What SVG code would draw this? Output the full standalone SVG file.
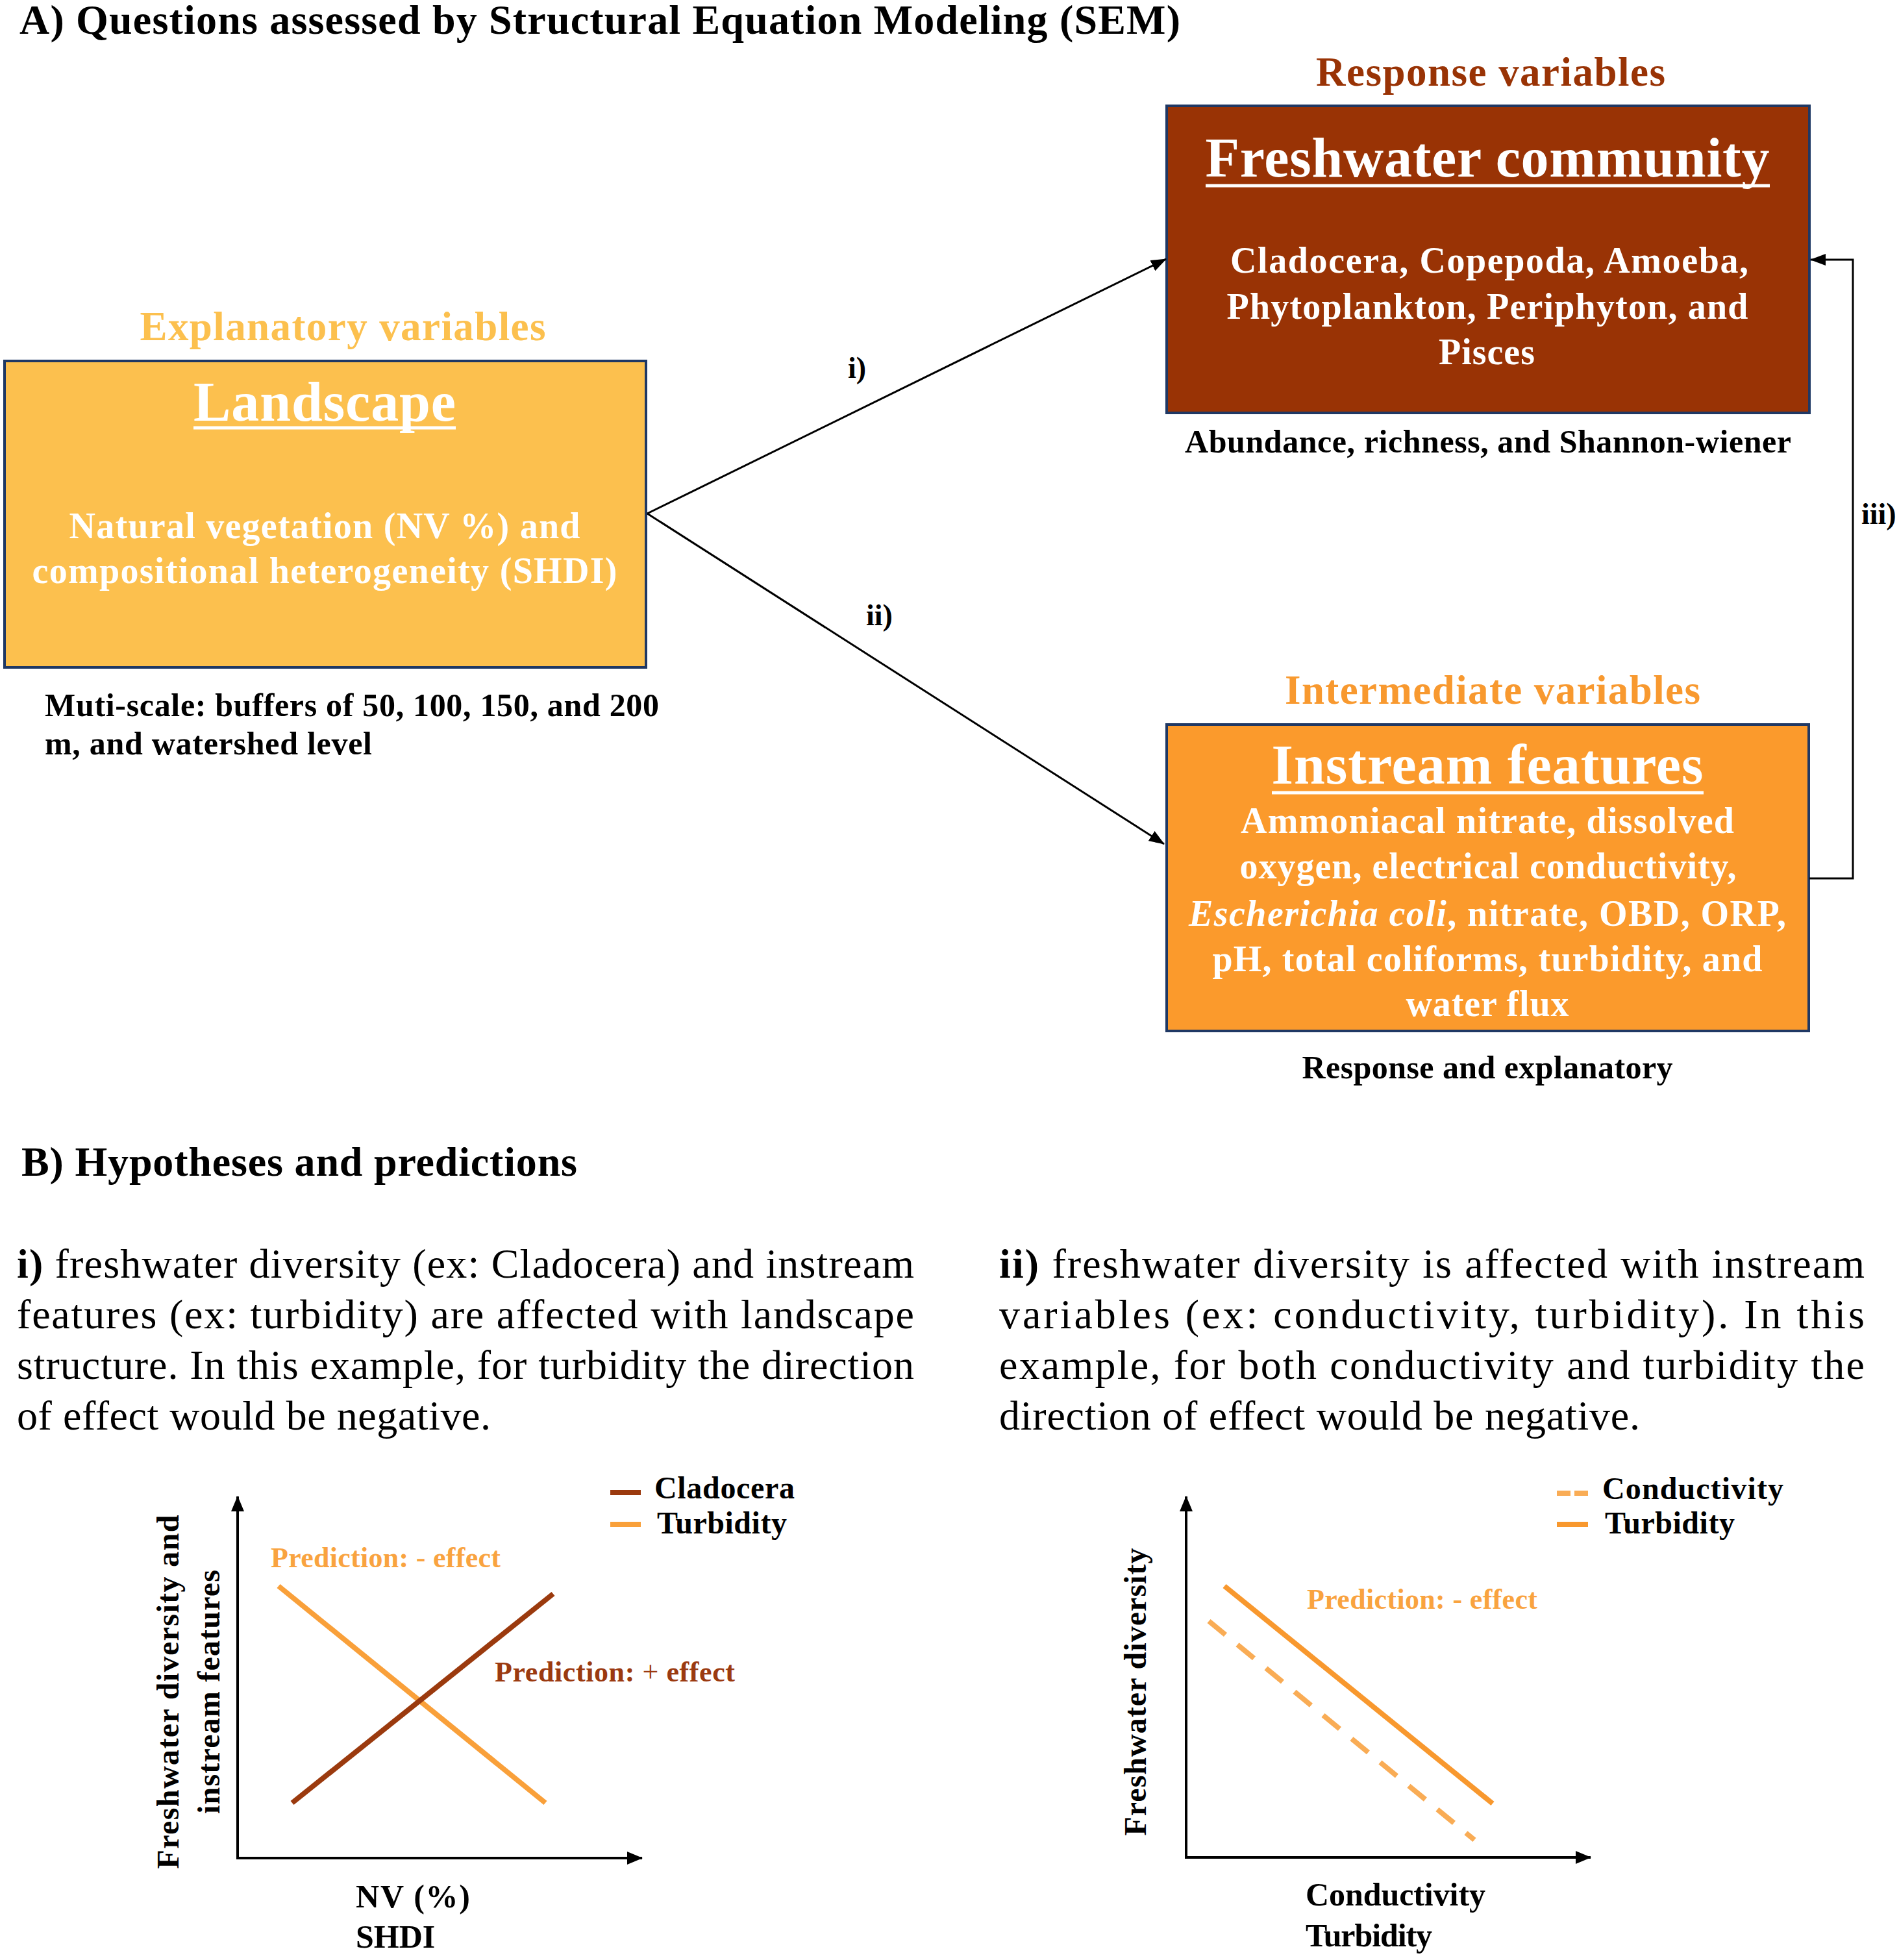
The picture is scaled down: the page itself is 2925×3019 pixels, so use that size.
<svg xmlns="http://www.w3.org/2000/svg" width="2925" height="3019" viewBox="0 0 2925 3019">
<defs>
<style>
text{font-family:"Liberation Serif","Times New Roman",serif;font-weight:bold;}
.title{font-size:64px;fill:#000}
.hdr{font-size:86px;fill:#fff;text-anchor:middle}
.body{font-size:56px;fill:#fff;text-anchor:middle}
.cap{font-size:50px;fill:#000}
.grp{font-size:63px;text-anchor:middle}
.para{font-size:64px;font-weight:normal;fill:#000}
.lbl{font-size:46px;fill:#000}
.box{stroke:#1F3864;stroke-width:4}
.ul{stroke:#fff;stroke-width:5}
.conn{stroke:#000;stroke-width:3;fill:none}
.ax{stroke:#000;stroke-width:4;fill:none}
.leg{font-size:48px;fill:#000}
.axl{font-size:50px;fill:#000}
.yl{font-size:48px;fill:#000;text-anchor:middle}
.pred{font-size:44px}
.brown{stroke:#9B3A0E}
.orng{stroke:#F9A03A}
</style>
<marker id="arr" markerUnits="userSpaceOnUse" markerWidth="24" markerHeight="18" viewBox="0 0 24 18" refX="23" refY="9" orient="auto"><path d="M0,0 L24,9 L0,18 z" fill="#000"/></marker>
<marker id="axarr" markerUnits="userSpaceOnUse" markerWidth="24" markerHeight="20" viewBox="0 0 24 20" refX="23" refY="10" orient="auto-start-reverse"><path d="M0,0 L24,10 L0,20 z" fill="#000"/></marker>
</defs>
<rect width="2925" height="3019" fill="#fff"/>

<text id="titleA" class="title" x="30" y="52" textLength="1788" lengthAdjust="spacing">A) Questions assessed by Structural Equation Modeling (SEM)</text>

<g id="landscape">
<text class="grp" x="528" y="524" fill="#FCC04E" textLength="625" lengthAdjust="spacing">Explanatory variables</text>
<rect class="box" x="7" y="556" width="988" height="472" fill="#FCC04E"/>
<text class="hdr" x="500" y="648" textLength="404" lengthAdjust="spacing">Landscape</text>
<line class="ul" x1="298" y1="659" x2="702" y2="659"/>
<text class="body" x="500" y="829" textLength="787" lengthAdjust="spacing">Natural vegetation (NV %) and</text>
<text class="body" x="500" y="898" textLength="901" lengthAdjust="spacing">compositional heterogeneity (SHDI)</text>
<text class="cap" x="69" y="1103" textLength="946" lengthAdjust="spacing">Muti-scale: buffers of 50, 100, 150, and 200</text>
<text class="cap" x="69" y="1162" textLength="504" lengthAdjust="spacing">m, and watershed level</text>
</g>

<g id="freshwater">
<text class="grp" x="2296" y="132" fill="#993305" textLength="538" lengthAdjust="spacing">Response variables</text>
<rect class="box" x="1797" y="163" width="990" height="473" fill="#993305"/>
<text class="hdr" x="2291" y="272" textLength="869" lengthAdjust="spacing">Freshwater community</text>
<line class="ul" x1="1857" y1="286" x2="2726" y2="286"/>
<text class="body" x="2294" y="420" textLength="798" lengthAdjust="spacing">Cladocera, Copepoda, Amoeba,</text>
<text class="body" x="2291" y="491" textLength="803" lengthAdjust="spacing">Phytoplankton, Periphyton, and</text>
<text class="body" x="2290" y="561" textLength="148" lengthAdjust="spacing">Pisces</text>
<text class="cap" x="2292" y="697" text-anchor="middle" textLength="934" lengthAdjust="spacing">Abundance, richness, and Shannon-wiener</text>
</g>

<g id="instream">
<text class="grp" x="2299" y="1084" fill="#F8992F" textLength="640" lengthAdjust="spacing">Intermediate variables</text>
<rect class="box" x="1797" y="1116" width="989" height="472" fill="#FB9A2C"/>
<text class="hdr" x="2291" y="1207" textLength="665" lengthAdjust="spacing">Instream features</text>
<line class="ul" x1="1959" y1="1221" x2="2624" y2="1221"/>
<text class="body" x="2291" y="1283" textLength="760" lengthAdjust="spacing">Ammoniacal nitrate, dissolved</text>
<text class="body" x="2292" y="1353" textLength="765" lengthAdjust="spacing">oxygen, electrical conductivity,</text>
<text class="body" x="2291" y="1426" textLength="920" lengthAdjust="spacing"><tspan font-style="italic">Escherichia coli</tspan>, nitrate, OBD, ORP,</text>
<text class="body" x="2291" y="1496" textLength="847" lengthAdjust="spacing">pH, total coliforms, turbidity, and</text>
<text class="body" x="2291" y="1565" textLength="251" lengthAdjust="spacing">water flux</text>
<text class="cap" x="2291" y="1661" text-anchor="middle" textLength="571" lengthAdjust="spacing">Response and explanatory</text>
</g>

<g id="connectors">
<line class="conn" x1="997" y1="791" x2="1796" y2="399" marker-end="url(#arr)"/>
<line class="conn" x1="997" y1="791" x2="1793" y2="1300" marker-end="url(#arr)"/>
<polyline class="conn" points="2787,1353 2854,1353 2854,400 2789,400" marker-end="url(#arr)"/>
<text class="lbl" x="1306" y="582">i)</text>
<text class="lbl" x="1334" y="963">ii)</text>
<text class="lbl" x="2867" y="807">iii)</text>
</g>

<text id="titleB" class="title" x="33" y="1811" textLength="856" lengthAdjust="spacing">B) Hypotheses and predictions</text>

<g id="hypothesis-i">
<text class="para" x="26" y="1968" textLength="1382" lengthAdjust="spacing"><tspan font-weight="bold">i)</tspan> freshwater diversity (ex: Cladocera) and instream</text>
<text class="para" x="26" y="2046" textLength="1382" lengthAdjust="spacing">features (ex: turbidity) are affected with landscape</text>
<text class="para" x="26" y="2124" textLength="1382" lengthAdjust="spacing">structure. In this example, for turbidity the direction</text>
<text class="para" x="26" y="2202" textLength="730" lengthAdjust="spacing">of effect would be negative.</text>
</g>

<g id="hypothesis-ii">
<text class="para" x="1539" y="1968" textLength="1333" lengthAdjust="spacing"><tspan font-weight="bold">ii)</tspan> freshwater diversity is affected with instream</text>
<text class="para" x="1539" y="2046" textLength="1333" lengthAdjust="spacing">variables (ex: conductivity, turbidity). In this</text>
<text class="para" x="1539" y="2124" textLength="1333" lengthAdjust="spacing">example, for both conductivity and turbidity the</text>
<text class="para" x="1539" y="2202" textLength="987" lengthAdjust="spacing">direction of effect would be negative.</text>
</g>

<g id="chart-i">
<polyline class="ax" points="366,2305 366,2862 989,2862" marker-start="url(#axarr)" marker-end="url(#axarr)"/>
<line class="orng" x1="429" y1="2443" x2="840" y2="2777" stroke-width="8"/>
<line class="brown" x1="450" y1="2777" x2="852" y2="2455" stroke-width="8"/>
<line class="brown" x1="940" y1="2299" x2="987" y2="2299" stroke-width="8"/>
<line class="orng" x1="940" y1="2348" x2="987" y2="2348" stroke-width="8"/>
<text class="leg" x="1008" y="2308" textLength="216" lengthAdjust="spacing">Cladocera</text>
<text class="leg" x="1012" y="2362" textLength="200" lengthAdjust="spacing">Turbidity</text>
<text class="pred" x="417" y="2414" fill="#F9A33F" textLength="354" lengthAdjust="spacing">Prediction: - effect</text>
<text class="pred" x="762" y="2590" fill="#9B3A10" textLength="370" lengthAdjust="spacing">Prediction: <tspan font-weight="normal">+</tspan> effect</text>
<text class="yl" transform="translate(275,2606) rotate(-90)" textLength="545" lengthAdjust="spacing">Freshwater diversity and</text>
<text class="yl" transform="translate(338,2606) rotate(-90)" textLength="376" lengthAdjust="spacing">instream features</text>
<text class="axl" x="548" y="2938" textLength="176" lengthAdjust="spacing">NV (%)</text>
<text class="axl" x="548" y="3000">SHDI</text>
</g>

<g id="chart-ii">
<polyline class="ax" points="1827,2305 1827,2861 2450,2861" marker-start="url(#axarr)" marker-end="url(#axarr)"/>
<line x1="1886" y1="2443" x2="2299" y2="2778" stroke="#F8982E" stroke-width="8"/>
<line x1="1862" y1="2497" x2="2271" y2="2834" stroke="#F9AC55" stroke-width="8" stroke-dasharray="33 24"/>
<line x1="2398" y1="2300" x2="2419" y2="2300" stroke="#F9AC55" stroke-width="8"/>
<line x1="2425" y1="2300" x2="2446" y2="2300" stroke="#F9AC55" stroke-width="8"/>
<line x1="2398" y1="2348" x2="2446" y2="2348" stroke="#F8982E" stroke-width="8"/>
<text class="leg" x="2468" y="2309" textLength="279" lengthAdjust="spacing">Conductivity</text>
<text class="leg" x="2472" y="2362" textLength="200" lengthAdjust="spacing">Turbidity</text>
<text class="pred" x="2013" y="2478" fill="#F9A33F" textLength="355" lengthAdjust="spacing">Prediction: - effect</text>
<text class="yl" transform="translate(1765,2606) rotate(-90)" textLength="443" lengthAdjust="spacing">Freshwater diversity</text>
<text class="axl" x="2011" y="2935" textLength="277" lengthAdjust="spacing">Conductivity</text>
<text class="axl" x="2011" y="2998" textLength="195" lengthAdjust="spacing">Turbidity</text>
</g>
</svg>
